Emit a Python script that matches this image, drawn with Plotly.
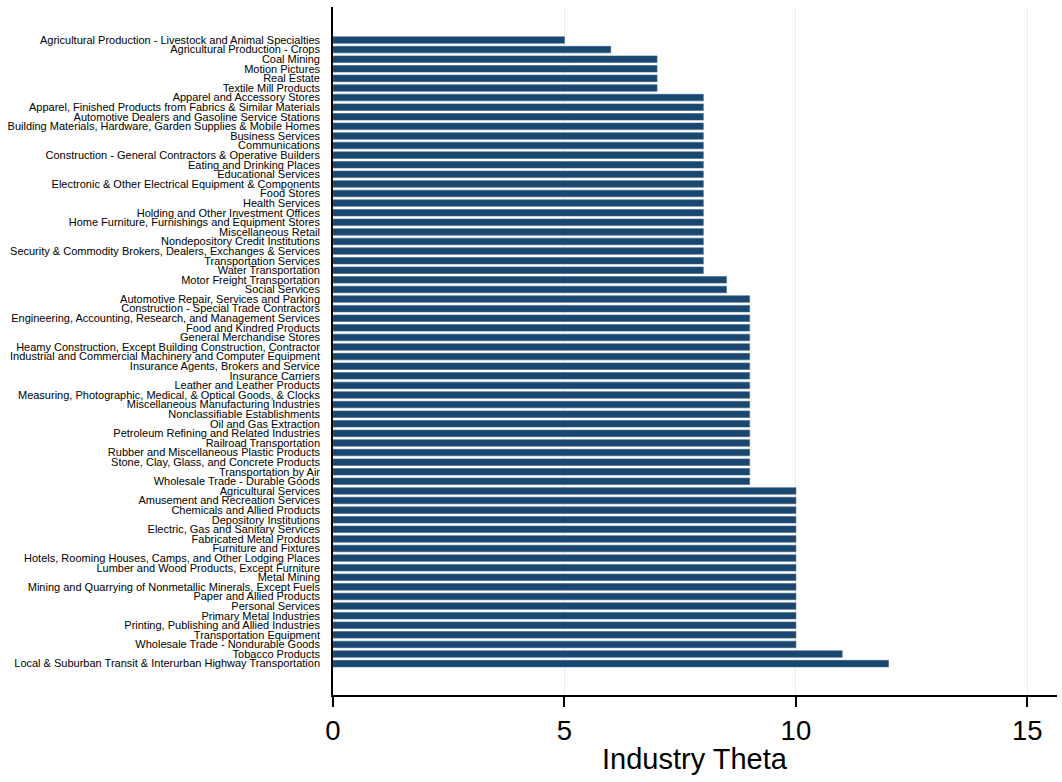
import plotly.graph_objects as go

industries = [
    "Agricultural Production - Livestock and Animal Specialties",
    "Agricultural Production - Crops",
    "Coal Mining",
    "Motion Pictures",
    "Real Estate",
    "Textile Mill Products",
    "Apparel and Accessory Stores",
    "Apparel, Finished Products from Fabrics & Similar Materials",
    "Automotive Dealers and Gasoline Service Stations",
    "Building Materials, Hardware, Garden Supplies & Mobile Homes",
    "Business Services",
    "Communications",
    "Construction - General Contractors & Operative Builders",
    "Eating and Drinking Places",
    "Educational Services",
    "Electronic & Other Electrical Equipment & Components",
    "Food Stores",
    "Health Services",
    "Holding and Other Investment Offices",
    "Home Furniture, Furnishings and Equipment Stores",
    "Miscellaneous Retail",
    "Nondepository Credit Institutions",
    "Security & Commodity Brokers, Dealers, Exchanges & Services",
    "Transportation Services",
    "Water Transportation",
    "Motor Freight Transportation",
    "Social Services",
    "Automotive Repair, Services and Parking",
    "Construction - Special Trade Contractors",
    "Engineering, Accounting, Research, and Management Services",
    "Food and Kindred Products",
    "General Merchandise Stores",
    "Heamy Construction, Except Building Construction, Contractor",
    "Industrial and Commercial Machinery and Computer Equipment",
    "Insurance Agents, Brokers and Service",
    "Insurance Carriers",
    "Leather and Leather Products",
    "Measuring, Photographic, Medical, & Optical Goods, & Clocks",
    "Miscellaneous Manufacturing Industries",
    "Nonclassifiable Establishments",
    "Oil and Gas Extraction",
    "Petroleum Refining and Related Industries",
    "Railroad Transportation",
    "Rubber and Miscellaneous Plastic Products",
    "Stone, Clay, Glass, and Concrete Products",
    "Transportation by Air",
    "Wholesale Trade - Durable Goods",
    "Agricultural Services",
    "Amusement and Recreation Services",
    "Chemicals and Allied Products",
    "Depository Institutions",
    "Electric, Gas and Sanitary Services",
    "Fabricated Metal Products",
    "Furniture and Fixtures",
    "Hotels, Rooming Houses, Camps, and Other Lodging Places",
    "Lumber and Wood Products, Except Furniture",
    "Metal Mining",
    "Mining and Quarrying of Nonmetallic Minerals, Except Fuels",
    "Paper and Allied Products",
    "Personal Services",
    "Primary Metal Industries",
    "Printing, Publishing and Allied Industries",
    "Transportation Equipment",
    "Wholesale Trade - Nondurable Goods",
    "Tobacco Products",
    "Local & Suburban Transit & Interurban Highway Transportation",
]

theta = (
    [5, 6, 7, 7, 7, 7]
    + [8] * 19
    + [8.5, 8.5]
    + [9] * 20
    + [10] * 17
    + [11, 12]
)

x_ticks = [0, 5, 10, 15]
x_title = "Industry Theta"

fig = go.Figure(
    go.Bar(
        x=theta,
        y=industries,
        orientation="h",
        width=0.68,
        marker=dict(color="#1a476f", line=dict(color="#3a6288", width=0.6)),
        hoverinfo="x+y",
    )
)

fig.update_layout(
    width=1062,
    height=782,
    margin=dict(l=333, r=5, t=7, b=87),
    paper_bgcolor="white",
    plot_bgcolor="white",
    showlegend=False,
    xaxis=dict(
        automargin=False,
        range=[0, 15.64],
        tickvals=x_ticks,
        ticktext=[str(t) for t in x_ticks],
        ticks="outside",
        ticklen=10,
        tickwidth=1.5,
        tickcolor="black",
        showline=True,
        linecolor="black",
        linewidth=1.6,
        showgrid=True,
        gridcolor="#e6eef1",
        gridwidth=1,
        zeroline=False,
        tickfont=dict(family="Liberation Sans, Arial", size=27.5, color="black"),
    ),
    yaxis=dict(
        automargin=False,
        type="category",
        categoryorder="array",
        categoryarray=industries,
        tickmode="array",
        tickvals=industries,
        ticktext=industries,
        range=[68.27, -3.44],
        showline=True,
        linecolor="black",
        linewidth=1.6,
        ticks="",
        ticklabelstandoff=9,
        showgrid=False,
        zeroline=False,
        tickfont=dict(family="Liberation Sans, Arial", size=11, color="black"),
    ),
    annotations=[
        dict(
            text=x_title,
            xref="paper",
            yref="paper",
            x=0.5,
            y=-0.093,
            xanchor="center",
            yanchor="middle",
            showarrow=False,
            font=dict(family="Liberation Sans, Arial", size=29, color="black"),
        )
    ],
)

fig.write_html(
    "out.html",
    config={"displayModeBar": False},
    post_script="document.body.style.margin='0';document.body.style.overflow='hidden';",
)
